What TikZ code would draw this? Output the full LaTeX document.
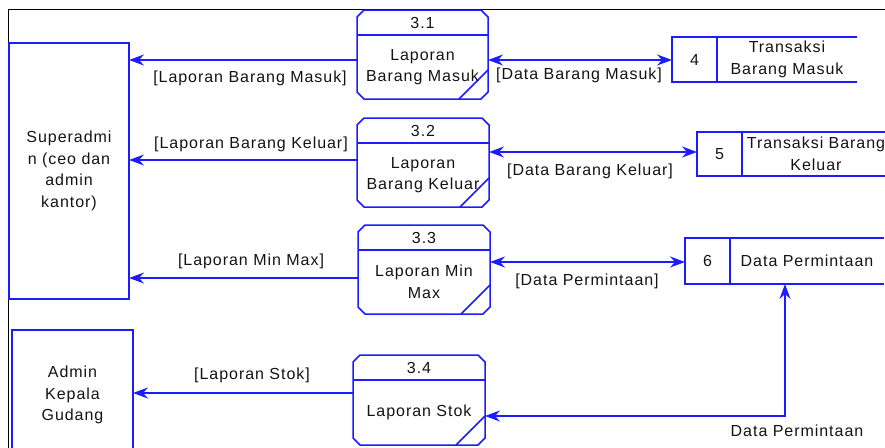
\documentclass[tikz,border=0pt]{standalone}
\usepackage{fontspec}
\setmainfont{Liberation Sans}[LetterSpace=6]
\usetikzlibrary{arrows.meta,calc}
\definecolor{dfdblue}{RGB}{28,28,255}
\definecolor{dfdtext}{RGB}{20,20,20}
% process bubble: chamfered outline, id strip on top, slash in the lower right corner
\newcommand\dfdproc[6]{%
  \node[anchorbox, minimum width=#4, minimum height=#5] (#1) at (#2,#3) {};
  \draw[flow] ([yshift=-7pt]#1.north west) -- ([xshift=7pt]#1.north west)
    -- ([xshift=-7pt]#1.north east) -- ([yshift=-7pt]#1.north east)
    -- ([yshift=7pt]#1.south east) -- ([xshift=-7pt]#1.south east)
    -- ([xshift=7pt]#1.south west) -- ([yshift=7pt]#1.south west) -- cycle;
  \draw[flow] ([yshift=-25pt]#1.north west) -- ([yshift=-25pt]#1.north east);
  \draw[flow] ([xshift=-29pt]#1.south east) -- ([yshift=29pt]#1.south east);
  \node[lbl] at ([yshift=-12.5pt]#1.north) {#6};
}
% data store: open on the right, number compartment on the left
\newcommand\dfdstore[6]{%
  \node[anchorbox, minimum width=#4, minimum height=#5] (#1) at (#2,#3) {};
  \draw[flow] (#1.north east) -- (#1.north west) -- (#1.south west) -- (#1.south east);
  \draw[flow] ([xshift=45pt]#1.north west) -- ([xshift=45pt]#1.south west);
  \node[lbl] at ($(#1.west)+(22.5,0)$) {#6};
}
\begin{document}
\begin{tikzpicture}[x=1pt,y=-1pt,
  flow/.style={draw=dfdblue, line width=1.5pt},
  anchorbox/.style={draw=none, rectangle, inner sep=0pt, outer sep=0pt},
  entity/.style={draw=dfdblue, line width=1.5pt, rectangle, inner sep=0pt, outer sep=0pt, align=center, text=dfdtext, font=\fontsize{16}{21.5}\selectfont},
  lbl/.style={text=dfdtext, align=center, inner sep=0pt, font=\fontsize{16}{21.5}\selectfont},
  >={Stealth[length=15pt,width=11pt,inset=5pt]}]
\clip (0,0) rectangle (885,447);
\fill[white] (0,0) rectangle (885,447);

% page frame
\draw[black, line width=0.9pt] (8,460) -- (8,9) -- (890,9);

% external entities
\node[entity, minimum width=120pt, minimum height=256pt] (sa) at (69,171)
  {Superadmi\\n (ceo dan\\admin\\kantor)};
\node[entity, minimum width=121pt, minimum height=130pt] (kg) at (72.5,395)
  {Admin\\Kepala\\Gudang};

% processes
\dfdproc{p1}{422.5}{54.5}{131pt}{89pt}{3.1}
\dfdproc{p2}{423}{162.5}{132pt}{89pt}{3.2}
\dfdproc{p3}{424}{269.5}{132pt}{89pt}{3.3}
\dfdproc{p4}{419}{400}{132pt}{90pt}{3.4}
\node[lbl] at ([yshift=-12.5pt]p1.center) {Laporan\\Barang Masuk};
\node[lbl] at ([yshift=-12.5pt]p2.center) {Laporan\\Barang Keluar};
\node[lbl] at ([yshift=-12.5pt]p3.center) {Laporan Min\\Max};
\node[lbl] at ([yshift=-12.5pt]p4.center) {Laporan Stok};

% data stores
\dfdstore{s4}{764.5}{59.5}{185pt}{45pt}{4}
\dfdstore{s5}{791.5}{154}{189pt}{44pt}{5}
\dfdstore{s6}{784.5}{261}{199pt}{46pt}{6}
\node[lbl] at ($(s4.east)+(-70,0)$) {Transaksi\\Barang Masuk};
\node[lbl] at ($(s5.east)+(-70,0)$) {Transaksi Barang\\Keluar};
\node[lbl] at ($(s6.east)+(-77,0)$) {Data Permintaan};

% reports to the entities
\coordinate (r1) at ([yshift=-5.5pt]p1.west);
\coordinate (r2) at ([yshift=2.5pt]p2.west);
\coordinate (r3) at ([yshift=-8.5pt]p3.west);
\coordinate (r4) at ([yshift=7pt]p4.west);
\draw[flow,->] (r1) -- (r1 -| sa.east);
\draw[flow,->] (r2) -- (r2 -| sa.east);
\draw[flow,->] (r3) -- (r3 -| sa.east);
\draw[flow,->] (r4) -- (r4 -| kg.east);
\node[lbl] at (250,78) {[Laporan Barang Masuk]};
\node[lbl] at (251,144) {[Laporan Barang Keluar]};
\node[lbl] at (251,261) {[Laporan Min Max]};
\node[lbl] at (252,375) {[Laporan Stok]};

% data exchanged with the stores
\coordinate (d1) at ([yshift=-5.5pt]p1.east);
\coordinate (d2) at ([yshift=10.5pt]p2.east);
\coordinate (d3) at ([yshift=7.5pt]p3.east);
\coordinate (d4) at ([yshift=-16pt]p4.east);
\coordinate (d6) at ([xshift=0.5pt]s6.south);
\draw[flow,<->] (d1) -- (d1 -| s4.west);
\draw[flow,<->] (d2) -- (d2 -| s5.west);
\draw[flow,<->] (d3) -- (d3 -| s6.west);
\draw[flow,<->] (d4) -- (d4 -| d6) -- (d6);
\node[lbl] at (579,75) {[Data Barang Masuk]};
\node[lbl] at (590,171) {[Data Barang Keluar]};
\node[lbl] at (587,281) {[Data Permintaan]};
\node[lbl] at (797,431) {Data Permintaan};
\end{tikzpicture}
\end{document}
